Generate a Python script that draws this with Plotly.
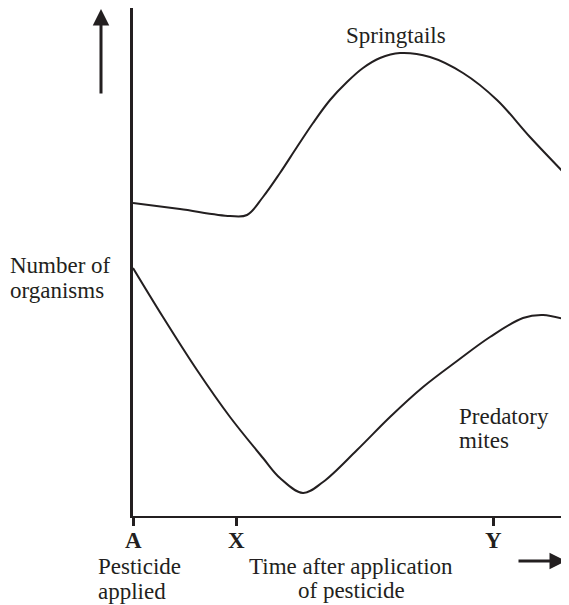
import plotly.graph_objects as go

# Time axis (arbitrary units): A = 0, X = 10, Y = 35
tick_vals = [0, 10, 35]
tick_text = ["A", "X", "Y"]

# Springtails (arbitrary number units)
spring_t = [0, 4.56, 9.42, 11.07, 12.62, 14.27, 15.92, 17.48, 19.13, 20.78, 22.33,
            23.98, 25.92, 28.83, 32.04, 35.34, 38.54, 42.14]
spring_n = [62.6, 61.4, 60.0, 60.2, 63.8, 68.6, 73.8, 78.6, 83.2, 86.8, 89.6,
            91.6, 92.6, 91.8, 88.6, 83.2, 75.8, 68.0]

# Predatory mites
mite_t = [0, 2.91, 6.21, 9.42, 12.62, 14.27, 16.5, 18.45, 21.75, 24.95, 28.16,
          31.46, 34.66, 37.86, 39.81, 42.14]
mite_n = [49.6, 39.8, 29.2, 19.8, 11.6, 7.6, 4.6, 6.8, 13.2, 19.8, 25.8,
          31.0, 35.8, 39.6, 40.2, 39.2]

INK = "#231f20"
FONT = "Liberation Serif"
FS = 23

# page has an 8px body margin; figure is placed at (8, 8)
OFF = 8
W, H = 569 - OFF, 605 - OFF
PL, PR, PT, PB = 133, 569, 8, 516   # plot area in page pixels
L, R, T, B = PL - OFF, 0, PT - OFF, (H + OFF) - PB
PW, PH = PR - PL, PB - PT


def px(xp):
    return (xp - PL) / PW


def py(yp):
    return (PB - yp) / PH


fig = go.Figure()
for tx, ny in ((spring_t, spring_n), (mite_t, mite_n)):
    fig.add_trace(go.Scatter(x=tx, y=ny, mode="lines",
                             line=dict(color=INK, width=2, shape="spline", smoothing=1.0),
                             hoverinfo="skip", showlegend=False))

# tick labels (bold letters under the ticks)
for v, t in zip(tick_vals, tick_text):
    fig.add_annotation(text="<b>%s</b>" % t, x=v, y=py(540), xref="x", yref="paper",
                       xanchor="center", yanchor="middle", showarrow=False,
                       font=dict(family=FONT, size=FS, color=INK))

texts = [
    ("Springtails", 396, 35, "center"),
    ("Predatory", 457, 416, "left"),
    ("mites", 457, 440, "left"),
    ("Number of", 8, 265, "left"),
    ("organisms", 8, 290, "left"),
    ("Pesticide", 96, 566, "left"),
    ("applied", 96, 591, "left"),
    ("Time after application", 351, 566, "center"),
    ("of pesticide", 351, 590, "center"),
]
for t, x, y, anc in texts:
    fig.add_annotation(text=t, x=px(x), y=py(y), xref="paper", yref="paper",
                       xanchor=anc, yanchor="middle", showarrow=False,
                       font=dict(family=FONT, size=FS, color=INK))

# Arrows
fig.add_annotation(x=px(101), y=py(8), xref="paper", yref="paper", ax=0, ay=87,
                   showarrow=True, arrowhead=2, arrowsize=1.1, arrowwidth=3,
                   arrowcolor=INK, text="")
fig.add_annotation(x=px(566), y=py(561), xref="paper", yref="paper", ax=-49, ay=0,
                   showarrow=True, arrowhead=2, arrowsize=1.1, arrowwidth=3,
                   arrowcolor=INK, text="")

fig.update_xaxes(range=[0, PW / 10.3], showgrid=False, zeroline=False,
                 showline=True, linewidth=2, linecolor=INK,
                 tickvals=tick_vals, showticklabels=False, ticks="outside",
                 ticklen=8, tickwidth=3, tickcolor=INK)
fig.update_yaxes(range=[0, PH / 5], showgrid=False, zeroline=False,
                 showline=True, linewidth=3, linecolor=INK,
                 showticklabels=False, ticks="")

fig.update_layout(width=W, height=H, margin=dict(l=L, r=R, t=T, b=B, pad=0),
                  plot_bgcolor="white", paper_bgcolor="white")
fig.write_html("out.html")
